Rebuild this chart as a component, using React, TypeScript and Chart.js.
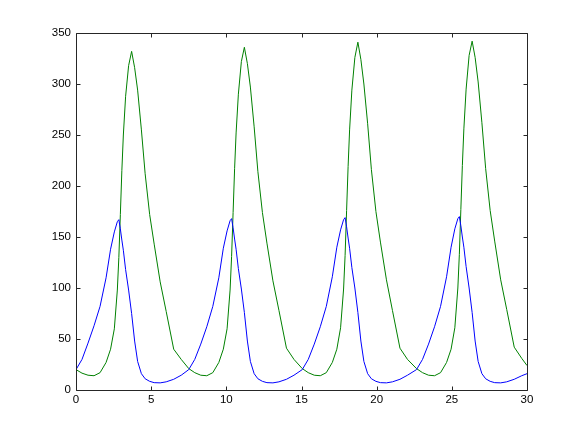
import React, { useEffect, useRef } from "react";
import { Chart, registerables } from "chart.js";

Chart.register(...registerables);

// time samples (solver output steps)
const t: number[] = [
  0, 0.4, 0.8, 1.2, 1.6, 2.0, 2.3, 2.55, 2.75, 2.85, 2.95, 3.05, 3.15, 3.3, 3.5, 3.7, 3.9, 4.1, 4.35, 4.6, 4.9, 5.2, 5.6, 6.0, 6.5, 7.0,
  7.5, 7.9, 8.3, 8.7, 9.1, 9.5, 9.8, 10.05, 10.25, 10.35, 10.45, 10.55, 10.65, 10.8, 11.0, 11.2, 11.4, 11.6, 11.85, 12.1, 12.4, 12.7, 13.1, 13.5, 14.0, 14.5,
  15.05, 15.45, 15.85, 16.25, 16.65, 17.05, 17.35, 17.6, 17.8, 17.9, 18.0, 18.1, 18.2, 18.35, 18.55, 18.75, 18.95, 19.15, 19.4, 19.65, 19.95, 20.25, 20.65, 21.05, 21.55, 22.05,
  22.65, 23.05, 23.45, 23.85, 24.25, 24.65, 24.95, 25.2, 25.4, 25.5, 25.6, 25.7, 25.8, 25.95, 26.15, 26.35, 26.55, 26.75, 27.0, 27.25, 27.55, 27.85, 28.25, 28.65, 29.15, 29.65, 30,
];

// prey population (blue)
const prey: number[] = [
  20, 30, 46, 63, 82, 110, 138, 155, 165, 167, 158, 147, 137, 118, 98, 75, 48, 28, 16, 11, 8.5, 7.2, 7, 8, 10.5, 14.5,
  20, 30, 45, 62, 82, 110, 139, 156, 166, 168, 159, 148, 138, 119, 99, 76, 48, 28, 16, 11, 8.5, 7.2, 7, 8, 10.5, 14.5,
  20, 30, 45, 62, 82, 111, 140, 157, 167, 169, 160, 149, 139, 120, 100, 76, 48, 28, 16, 11, 8.5, 7.2, 7, 8, 10.5, 14.5,
  20, 30, 45, 62, 82, 111, 140, 158, 168, 170, 161, 150, 140, 121, 100, 76, 48, 28, 16, 11, 8.5, 7.2, 7, 8, 10.5, 14, 16,
];

// predator population (green)
const predator: number[] = [
  20, 16.5, 14.5, 14, 17, 27, 40, 60, 98, 130, 172, 215, 250, 288, 318, 332, 316, 294, 255, 212, 172, 143, 106, 77, 40, 30,
  21, 17, 14.5, 14, 17, 27, 40, 60, 98, 131, 174, 217, 252, 290, 322, 336, 320, 297, 258, 214, 174, 144, 107, 78, 41, 30,
  21, 17, 14.5, 14, 17, 27, 40, 61, 99, 132, 176, 219, 255, 294, 326, 341, 324, 300, 261, 216, 175, 145, 108, 78, 41, 30,
  21, 17, 14.5, 14, 17, 27, 40, 61, 100, 133, 177, 220, 256, 295, 328, 342, 326, 302, 262, 217, 176, 146, 108, 79, 42, 31, 24,
];

const xTicks: number[] = [0, 5, 10, 15, 20, 25, 30];
const yTicks: number[] = [0, 50, 100, 150, 200, 250, 300, 350];

const framePlugin = {
  id: "matlabFrame",
  afterDatasetsDraw(chart: any) {
    const { ctx, chartArea, scales } = chart;
    const { left, right, top, bottom } = chartArea;
    const L = Math.round(left) + 0.5;
    const R = Math.round(right) + 0.5;
    const T = Math.round(top) + 0.5;
    const B = Math.round(bottom) + 0.5;
    const len = 4;
    ctx.save();
    ctx.strokeStyle = "#262626";
    ctx.lineWidth = 1;
    ctx.beginPath();
    ctx.rect(L, T, R - L, B - T);
    for (const v of xTicks) {
      const px = Math.round(scales.x.getPixelForValue(v)) + 0.5;
      ctx.moveTo(px, B);
      ctx.lineTo(px, B - len);
      ctx.moveTo(px, T);
      ctx.lineTo(px, T + len);
    }
    for (const v of yTicks) {
      const py = Math.round(scales.y.getPixelForValue(v)) + 0.5;
      ctx.moveTo(L, py);
      ctx.lineTo(L + len, py);
      ctx.moveTo(R, py);
      ctx.lineTo(R - len, py);
    }
    ctx.stroke();
    ctx.restore();
  },
};

export default function App() {
  const ref = useRef<HTMLCanvasElement | null>(null);
  useEffect(() => {
    if (!ref.current) return;
    const font = { family: "'Liberation Sans', Arial, sans-serif", size: 11.5 };
    const chart = new Chart(ref.current, {
      type: "line",
      data: {
        datasets: [
          {
            label: "prey",
            data: t.map((x, i) => ({ x, y: prey[i] })),
            borderColor: "#0000ff",
            borderWidth: 1,
            pointRadius: 0,
            tension: 0,
            fill: false,
          },
          {
            label: "predator",
            data: t.map((x, i) => ({ x, y: predator[i] })),
            borderColor: "#008000",
            borderWidth: 1,
            pointRadius: 0,
            tension: 0,
            fill: false,
          },
        ],
      },
      options: {
        responsive: false,
        animation: false,
        events: [],
        layout: { padding: { top: 33, right: 55, left: 0, bottom: 0 } },
        plugins: { legend: { display: false }, tooltip: { enabled: false } },
        scales: {
          x: {
            type: "linear",
            min: 0,
            max: 30,
            afterBuildTicks: (s: any) => {
              s.ticks = xTicks.map((v) => ({ value: v }));
            },
            afterFit: (s: any) => {
              s.height = 48;
            },
            grid: { display: false, drawTicks: false },
            border: { display: false },
            ticks: { color: "#000", font, padding: 3, maxRotation: 0, autoSkip: false },
          },
          y: {
            type: "linear",
            min: 0,
            max: 350,
            afterBuildTicks: (s: any) => {
              s.ticks = yTicks.map((v) => ({ value: v }));
            },
            afterFit: (s: any) => {
              s.width = 76;
            },
            grid: { display: false, drawTicks: false },
            border: { display: false },
            ticks: { color: "#000", font, padding: 5, autoSkip: false },
          },
        },
      },
      plugins: [framePlugin],
    });
    return () => chart.destroy();
  }, []);
  return (
    <div style={{ position: "fixed", left: 0, top: 0, width: 582, height: 438, background: "#fff" }}>
      <canvas ref={ref} width={582} height={438} style={{ display: "block" }} />
    </div>
  );
}
